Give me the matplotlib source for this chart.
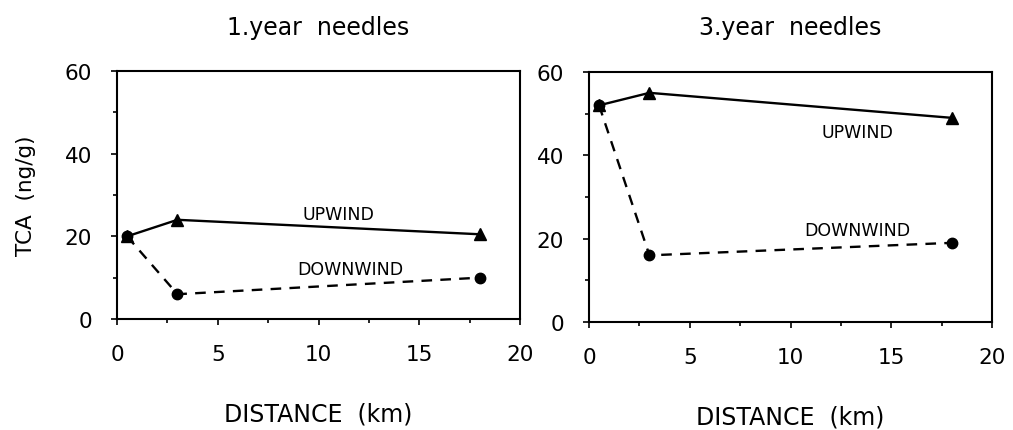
import matplotlib
matplotlib.use("Agg")
import matplotlib.pyplot as plt
from matplotlib.ticker import MultipleLocator

plt.rcParams['font.family'] = ['DejaVu Sans']

distance = [0.5, 3, 18]
up_1yr = [20, 24, 20.5]
down_1yr = [20, 6, 10]
up_3yr = [52, 55, 49]
down_3yr = [52, 16, 19]
titles = ["1.year  needles", "3.year  needles"]
xticks = [0, 5, 10, 15, 20]
yticks = [0, 20, 40, 60]

fig = plt.figure(figsize=(10.13, 4.31), dpi=100)
ax1 = fig.add_axes([117/1013, 1 - 320/431, 403/1013, 248/431])
ax2 = fig.add_axes([589/1013, 1 - 323/431, 403/1013, 250/431])

panels = [
    (ax1, up_1yr, down_1yr, titles[0], (11, 25.5), (11.6, 12)),
    (ax2, up_3yr, down_3yr, titles[1], (13.3, 45.5), (13.3, 22)),
]

for ax, up, down, title, up_pos, down_pos in panels:
    ax.plot(distance, up, color='black', lw=1.7, marker='^', ms=8.5, zorder=3)
    ax.plot(distance, down, color='black', lw=1.7, ls=(0, (4.5, 3.5)), marker='o', ms=7.5, zorder=3)
    ax.set_xlim(0, 20)
    ax.set_ylim(0, 60)
    ax.set_xticks(xticks)
    ax.set_yticks(yticks)
    ax.xaxis.set_minor_locator(MultipleLocator(2.5))
    ax.yaxis.set_minor_locator(MultipleLocator(10))
    ax.tick_params(which='both', direction='out', length=4, width=1.2, labelsize=15.5)
    ax.tick_params(axis='x', which='major', pad=14)
    ax.tick_params(axis='y', which='major', pad=14)
    ax.tick_params(which='minor', length=3)
    for s in ax.spines.values():
        s.set_linewidth(1.5)
    ax.set_title(title, fontsize=17, pad=27)
    ax.set_xlabel("DISTANCE  (km)", fontsize=17, labelpad=27)
    ax.text(*up_pos, "UPWIND", fontsize=12.5, ha='center', va='center')
    ax.text(*down_pos, "DOWNWIND", fontsize=12.5, ha='center', va='center')

ax1.set_ylabel("TCA  (ng/g)", fontsize=15.5)
ax1.yaxis.set_label_coords(-0.2, 0.5)

fig.savefig("out.png", dpi=100, facecolor='white')
